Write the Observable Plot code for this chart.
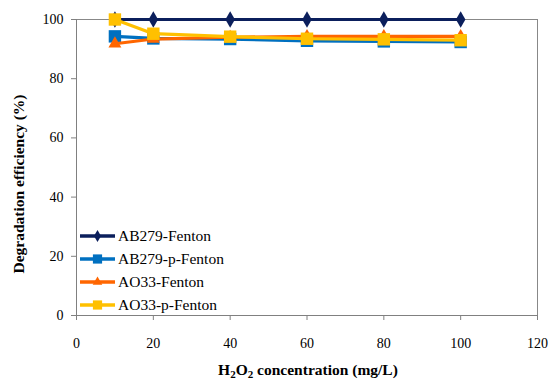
<!DOCTYPE html>
<html><head><meta charset="utf-8">
<script src="https://cdn.jsdelivr.net/npm/d3@7"></script>
<script src="https://cdn.jsdelivr.net/npm/@observablehq/plot@0.6"></script>
</head>
<body style="margin:0;background:#fff">
<div id="wrap" style="position:relative;width:550px;height:382px;font-family:'Liberation Serif'">
<div id="chart"></div>
<div id="legend" style="position:absolute;left:80px;top:224px;font-size:15.5px;color:#000;font-family:'Liberation Serif'"></div>
</div>
<script>
const concentration = [10, 20, 40, 60, 80, 100];
const seriesNames = ["AB279-Fenton", "AB279-p-Fenton", "AO33-Fenton", "AO33-p-Fenton"];
const ab279Fenton = [100, 100, 100, 100, 100, 100];
const ab279pFenton = [94.3, 93.6, 93.4, 92.8, 92.6, 92.4];
const ao33Fenton = [91.8, 93.4, 94.0, 94.3, 94.3, 94.3];
const ao33pFenton = [100, 95.2, 94.2, 93.5, 93.3, 93.0];
const xTicks = [0, 20, 40, 60, 80, 100, 120];
const yTicks = [0, 20, 40, 60, 80, 100];
const colors = ["#0b1f5c", "#0070c0", "#ff6600", "#ffc000"];
const symbols = ["diamond", "square", "triangle", "square"];
const radii = [5, 7, 4.8, 7];
const FONT = "Liberation Serif";

const allValues = [ab279Fenton, ab279pFenton, ao33Fenton, ao33pFenton];
const data = [];
seriesNames.forEach((s, i) => concentration.forEach((c, j) => data.push({series: s, x: c, y: allValues[i][j], k: i})));

const marks = [];
seriesNames.forEach((s, i) => {
  const d = data.filter(r => r.series === s);
  marks.push(Plot.line(d, {x: "x", y: "y", stroke: colors[i], strokeWidth: 3.2}));
  marks.push(Plot.dot(d, {x: "x", y: "y", fill: colors[i], stroke: "none", symbol: () => symbols[i], r: radii[i]}));
});

const chart = Plot.plot({
  width: 550, height: 382,
  marginLeft: 76, marginRight: 13, marginTop: 19, marginBottom: 67,
  style: {fontFamily: FONT, fontSize: "14px", color: "#000", background: "#fff"},
  x: {domain: [0, 120], label: null},
  y: {domain: [0, 100], label: null},
  marks: [
    Plot.frame({stroke: "#888", strokeWidth: 1}),
    Plot.ruleX([0], {stroke: "#808080"}),
    Plot.ruleY([0], {stroke: "#808080"}),
    Plot.axisX({ticks: xTicks, tickSize: 5, tickPadding: 18, stroke: "#808080", label: null, fontSize: 14}),
    Plot.axisY({ticks: yTicks, tickSize: 5, tickPadding: 8, stroke: "#808080", label: null, fontSize: 14}),
    ...marks
  ]
});
document.getElementById("chart").appendChild(chart);

const svg = d3.select(chart);
svg.append("text").attr("x", 308).attr("y", 375).attr("text-anchor", "middle")
  .attr("font-weight", "bold").attr("font-size", 15.5)
  .html('H<tspan font-size="11" dy="3">2</tspan><tspan dy="-3">O</tspan><tspan font-size="11" dy="3">2</tspan><tspan dy="-3"> concentration (mg/L)</tspan>');
svg.append("text").attr("transform", "translate(24,184) rotate(-90)").attr("text-anchor", "middle")
  .attr("font-weight", "bold").attr("font-size", 15.5).text("Degradation efficiency (%)");
svg.selectAll("text").attr("font-family", FONT).style("font-family", FONT).attr("fill", "#000");

const legend = d3.select("#legend");
seriesNames.forEach((s, i) => {
  const row = legend.append("div").style("display", "flex").style("align-items", "center").style("height", "23px");
  const sv = row.append("svg").attr("width", 35).attr("height", 16).style("margin-right", "3px");
  sv.append("line").attr("x1", 0).attr("x2", 35).attr("y1", 8).attr("y2", 8).attr("stroke", colors[i]).attr("stroke-width", 3.5);
  sv.append("path").attr("transform", "translate(17.5,8)")
    .attr("d", d3.symbol(i === 0 ? d3.symbolDiamond : i === 2 ? d3.symbolTriangle : d3.symbolSquare, Math.PI * radii[i] * radii[i] * 0.55)())
    .attr("fill", colors[i]);
  row.append("span").style("font-family", FONT).text(s);
});
</script></body></html>
